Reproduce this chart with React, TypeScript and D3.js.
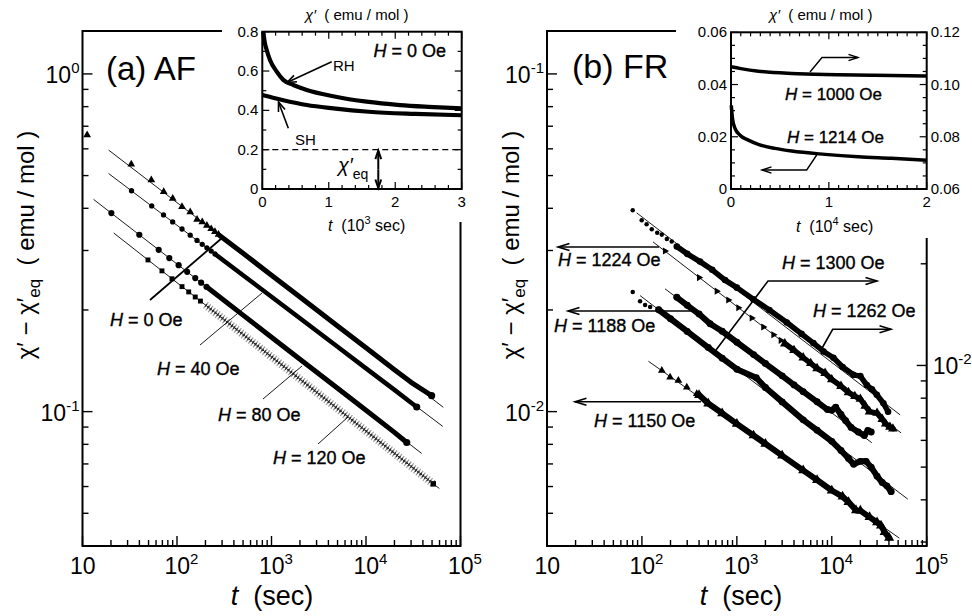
import React from 'react';
import * as d3 from 'd3';

type P = [number, number];

const FONT = "'Liberation Sans', Arial, Helvetica, sans-serif";

// ---------- panel (a) AF : chi' - chi'eq (emu/mol) vs t (sec)
const afH0Sparse: P[] = [[11.2, 0.659], [32.8, 0.54], [53.5, 0.485], [72.3, 0.4475], [90.1, 0.4277], [113, 0.404], [138, 0.3903], [163, 0.3705], [185, 0.3643], [207, 0.3557], [230, 0.3477], [252, 0.341], [275, 0.3347]];
const afH0Band: P[] = [[280, 0.333], [500, 0.2943], [1000, 0.2535], [2000, 0.2184], [5000, 0.1794], [10000, 0.1545], [20000, 0.1331], [30000, 0.1221], [49500, 0.1115]];
const afH0Fit: P[] = [[18.9, 0.595], [65800, 0.103]];

const afH40Sparse: P[] = [[33, 0.4508], [54, 0.4064], [72, 0.3824], [90, 0.3645], [113, 0.3474], [138, 0.333], [163, 0.3214], [185, 0.313], [207, 0.3056], [230, 0.2988], [252, 0.2931]];
const afH40Band: P[] = [[260, 0.291], [500, 0.2535], [1000, 0.2189], [2000, 0.189], [5000, 0.1556], [10000, 0.1343], [20000, 0.116], [34400, 0.1032]];
const afH40Fit: P[] = [[18.9, 0.507], [64900, 0.0904]];

const afH80Sparse: P[] = [[20.2, 0.3873], [39.9, 0.334], [64, 0.3014], [82.9, 0.2849], [104, 0.2714], [128, 0.2594], [156, 0.2485], [180, 0.2409], [205, 0.2342]];
const afH80Band: P[] = [[215, 0.232], [500, 0.1931], [1000, 0.1661], [2000, 0.1429], [5000, 0.1172], [10000, 0.1009], [20000, 0.0868], [27000, 0.081]];
const afH80Fit: P[] = [[13.1, 0.425], [38800, 0.0752]];

const afH120Sparse: P[] = [[49.3, 0.2813], [69.3, 0.2611], [88.5, 0.2474], [113, 0.2345], [133, 0.2262], [156, 0.2185], [177, 0.2125]];
const afH120Band: P[] = [[200, 0.2069], [500, 0.1692], [1000, 0.1453], [2000, 0.1248], [5000, 0.102], [10000, 0.0876], [20000, 0.0752], [51500, 0.0611]];
const afH120Fit: P[] = [[21.4, 0.338], [59700, 0.0592]];

// inset (a): chi' (emu/mol) vs t (10^3 sec), H = 0 Oe
const rhCurve: P[] = [[0.015, 0.8], [0.04, 0.74], [0.066, 0.707], [0.116, 0.656], [0.217, 0.597], [0.316, 0.555], [0.466, 0.529], [0.668, 0.504], [1.068, 0.472], [1.57, 0.444], [2.07, 0.427], [2.5, 0.418], [3.0, 0.41]];
const shCurve: P[] = [[0.0, 0.478], [0.3, 0.453], [0.67, 0.427], [1.07, 0.41], [1.6, 0.393], [2.3, 0.382], [3.0, 0.375]];
const chiEq = 0.2;
const chiEqArrowT = 1.745;

// ---------- panel (b) FR
// right-axis series: 1262 Oe, 1300 Oe ; left-axis: 1224, 1188, 1150 Oe
const fr1262Sparse: P[] = [[80, 0.0288], [99.5, 0.0269], [112, 0.0262], [127, 0.0253], [145, 0.0247], [162, 0.0244], [183, 0.0237], [206, 0.0233]];
const fr1262Band: P[] = [[233, 0.0225], [300, 0.0214], [409, 0.0203], [550, 0.0192], [751, 0.0179], [1000, 0.017], [1490, 0.0157], [2200, 0.0146], [3360, 0.0134], [4800, 0.0124], [6400, 0.01165], [8200, 0.011], [10400, 0.01054], [13000, 0.0099], [16900, 0.00938], [20000, 0.0093], [23400, 0.00875], [26500, 0.0085], [29800, 0.00819], [35000, 0.00773], [39200, 0.00729]];
const fr1262Fit: P[] = [[88.1, 0.0283], [52500, 0.00714]];

const fr1224Sparse: P[] = [[175, 0.0299], [400, 0.02494], [614, 0.02274], [813, 0.02141], [1037, 0.02031], [1435, 0.01893], [1900, 0.01781], [2430, 0.01689], [2900, 0.01626]];
const fr1224Band: P[] = [[3200, 0.0159], [4000, 0.0152], [5000, 0.01445], [6000, 0.0139], [7000, 0.01343], [8500, 0.013], [10000, 0.01245], [12500, 0.0119], [15000, 0.0114], [17500, 0.0111], [20000, 0.0109], [22500, 0.0104], [25000, 0.01], [30000, 0.0099], [34000, 0.0095], [37000, 0.0092], [41000, 0.009], [44000, 0.0089]];
const fr1224Fit: P[] = [[131, 0.0318], [53700, 0.00865]];

const fr1188Band: P[] = [[233, 0.0218], [300, 0.02065], [400, 0.01945], [522, 0.0182], [700, 0.0173], [1000, 0.01605], [1500, 0.01475], [2000, 0.01388], [3000, 0.01276], [4000, 0.012], [5000, 0.01146], [7000, 0.01069], [9000, 0.01014], [10000, 0.0101], [11000, 0.0103], [12500, 0.0098], [14000, 0.0094], [16000, 0.00897], [19000, 0.0087], [22000, 0.0085], [24000, 0.0088], [26000, 0.0087]];
const fr1188Fit: P[] = [[175, 0.0231], [26400, 0.00809]];

const fr1300Sparse: P[] = [[80, 0.0165], [95.6, 0.0155], [108, 0.0151], [122, 0.0149]];
const fr1300Band: P[] = [[150, 0.01462], [200, 0.01375], [300, 0.01261], [500, 0.0113], [700, 0.01051], [1000, 0.00975], [1600, 0.0092], [2000, 0.0086], [3000, 0.0078], [5000, 0.0069], [7000, 0.00643], [10000, 0.00596], [12500, 0.0056], [15000, 0.0053], [17000, 0.0051], [20000, 0.0052], [23000, 0.0052], [26000, 0.005], [30000, 0.0047], [34000, 0.0045], [38000, 0.0044], [42200, 0.00423]];
const fr1300Fit: P[] = [[95.6, 0.0161], [63200, 0.00402]];

const fr1150Sparse: P[] = [[162, 0.01324], [198, 0.01265], [242, 0.01236], [297, 0.01181], [378, 0.0113]];
const fr1150Band: P[] = [[400, 0.0112], [500, 0.01057], [700, 0.00989], [1000, 0.0092], [1500, 0.0085], [2000, 0.00803], [3000, 0.00741], [5000, 0.0067], [7000, 0.00627], [10000, 0.00584], [13000, 0.0056], [15000, 0.0054], [18000, 0.0051], [20000, 0.00509], [25000, 0.00487], [30000, 0.0047], [33000, 0.0046], [36000, 0.0044], [40200, 0.00423]];
const fr1150Fit: P[] = [[117, 0.0141], [51500, 0.00422]];

// inset (b): chi' vs t (10^4 sec)
const h1000Curve: P[] = [[0, 0.1068], [0.1, 0.1061], [0.28, 0.1051], [0.62, 0.1042], [0.96, 0.1038], [1.47, 0.1036], [2.0, 0.1033]];
const h1214Curve: P[] = [[0.003, 0.032], [0.015, 0.027], [0.041, 0.0232], [0.092, 0.0206], [0.177, 0.0187], [0.279, 0.0171], [0.45, 0.01555], [0.62, 0.01452], [0.96, 0.01326], [1.3, 0.01234], [1.64, 0.01173], [2.0, 0.011]];

type Sc = (v: number) => number;

const isMajor = (v: number) => Math.abs(Math.log10(v) - Math.round(Math.log10(v))) < 1e-6;

function Arrow({ pts, w = 1.5, head = 11, ang = 0.36 }: { pts: P[]; w?: number; head?: number; ang?: number }) {
  const n = pts.length;
  const [x1, y1] = pts[n - 1];
  const [x0, y0] = pts[n - 2];
  const a = Math.atan2(y1 - y0, x1 - x0);
  const h1 = [x1 - head * Math.cos(a - ang), y1 - head * Math.sin(a - ang)];
  const h2 = [x1 - head * Math.cos(a + ang), y1 - head * Math.sin(a + ang)];
  return (
    <g fill="none" stroke="#000" strokeWidth={w} strokeLinejoin="miter">
      <polyline points={pts.map((p) => p.join(',')).join(' ')} />
      <polyline points={`${h1.join(',')} ${x1},${y1} ${h2.join(',')}`} />
    </g>
  );
}

function Markers({ pts, x, y, type, size, rot = 0, fill = '#000' }: { pts: P[]; x: Sc; y: Sc; type: d3.SymbolType; size: number; rot?: number; fill?: string }) {
  const d = d3.symbol().type(type).size(size)() as string;
  return (
    <g fill={fill}>
      {pts.map((p, i) => (
        <path key={i} d={d} transform={`translate(${x(p[0])},${y(p[1])}) rotate(${rot})`} />
      ))}
    </g>
  );
}

function Pow({ x, y, anchor, exp, size = 23 }: { x: number; y: number; anchor: string; exp: string; size?: number }) {
  return (
    <text x={x} y={y} textAnchor={anchor} fontSize={size}>
      10{exp ? <tspan dy={-10} fontSize={15}>{exp}</tspan> : null}
    </text>
  );
}

function HLabel({ x, y, val, size = 18, anchor = 'start' }: { x: number; y: number; val: string; size?: number; anchor?: string }) {
  return (
    <text x={x} y={y} fontSize={size} textAnchor={anchor} stroke="#000" strokeWidth={0.35}>
      <tspan fontStyle="italic">H</tspan> = {val} Oe
    </text>
  );
}

function LogPanel({ x, y, yr, x0, x1, y0, y1, topEnd, rightStart, labelsY, labelsYR }: {
  x: any; y: any; yr?: any; x0: number; x1: number; y0: number; y1: number; topEnd: number; rightStart: number;
  labelsY: [number, string][]; labelsYR?: [number, string][];
}) {
  const xt = x.ticks() as number[];
  const yt = y.ticks() as number[];
  const yrt = yr ? (yr.ticks() as number[]).filter((v) => yr(v) >= rightStart + 4) : [];
  return (
    <g>
      <path d={`M${topEnd},${y0} H${x0} V${y1} H${x1} V${rightStart}`} fill="none" stroke="#000" strokeWidth={2} />
      <g stroke="#000" strokeWidth={1.4}>
        {yt.map((v, i) => (
          <line key={'y' + i} x1={x0} x2={x0 + (isMajor(v) ? 10 : 6)} y1={y(v)} y2={y(v)} />
        ))}
        {xt.map((v, i) => (
          <line key={'x' + i} x1={x(v)} x2={x(v)} y1={y1} y2={y1 - (isMajor(v) ? 10 : 6)} />
        ))}
        {yrt.map((v, i) => (
          <line key={'r' + i} x1={x1} x2={x1 - (isMajor(v) ? 10 : 6)} y1={yr(v)} y2={yr(v)} />
        ))}
      </g>
      {labelsY.map(([v, e]) => (
        <Pow key={'ly' + v} x={x0 - 3} y={y(v) + 9} anchor="end" exp={e} />
      ))}
      {(labelsYR || []).map(([v, e]) => (
        <Pow key={'lr' + v} x={x1 + 6} y={yr(v) + 9} anchor="start" exp={e} />
      ))}
      {xt.filter(isMajor).map((v) => {
        const e = Math.round(Math.log10(v));
        return <Pow key={'lx' + v} x={x(v) - 12.5} y={574} anchor="start" exp={e === 1 ? '' : String(e)} />;
      })}
    </g>
  );
}

function LinInset({ x, y, yr, xMinor, yMinor, yrMinor, xLabels, yLabels, yrLabels }: {
  x: any; y: any; yr?: any; xMinor: number; yMinor: number; yrMinor?: number;
  xLabels: [number, string][]; yLabels: [number, string][]; yrLabels?: [number, string][];
}) {
  const [xa, xb] = x.range();
  const [ya, yb] = y.range();
  const [dx0, dx1] = x.domain();
  const [dy0, dy1] = y.domain();
  const xm = d3.range(dx0, dx1 + 1e-9, xMinor);
  const ym = d3.range(dy0, dy1 + 1e-9, yMinor);
  const yrm = yr ? d3.range(yr.domain()[0], yr.domain()[1] + 1e-9, yrMinor as number) : [];
  const majX = new Set(xLabels.map((d) => d[0]));
  const majY = new Set(yLabels.map((d) => d[0]));
  const near = (s: Set<number>, v: number) => [...s].some((m) => Math.abs(m - v) < 1e-9);
  return (
    <g>
      <rect x={xa} y={yb} width={xb - xa} height={ya - yb} fill="#fff" stroke="#000" strokeWidth={2} />
      <g stroke="#000" strokeWidth={1.2}>
        {xm.map((v, i) => {
          const L = near(majX, v) ? 7 : 4;
          return (
            <g key={'x' + i}>
              <line x1={x(v)} x2={x(v)} y1={ya} y2={ya - L} />
              <line x1={x(v)} x2={x(v)} y1={yb} y2={yb + L} />
            </g>
          );
        })}
        {ym.map((v, i) => {
          const L = near(majY, v) ? 7 : 4;
          return (
            <g key={'y' + i}>
              <line x1={xa} x2={xa + L} y1={y(v)} y2={y(v)} />
              {yr ? null : <line x1={xb} x2={xb - L} y1={y(v)} y2={y(v)} />}
            </g>
          );
        })}
        {yrm.map((v, i) => {
          const L = (yrLabels || []).some((m) => Math.abs(m[0] - v) < 1e-9) ? 7 : 4;
          return <line key={'r' + i} x1={xb} x2={xb - L} y1={yr(v)} y2={yr(v)} />;
        })}
      </g>
      <g fontSize={15}>
        {xLabels.map(([v, s]) => (
          <text key={'lx' + v} x={x(v)} y={ya + 18} textAnchor="middle">{s}</text>
        ))}
        {yLabels.map(([v, s]) => (
          <text key={'ly' + v} x={xa - 4} y={y(v) + 5} textAnchor="end">{s}</text>
        ))}
        {(yrLabels || []).map(([v, s]) => (
          <text key={'lr' + v} x={xb + 4} y={yr(v) + 5} textAnchor="start">{s}</text>
        ))}
      </g>
    </g>
  );
}

export default function App() {
  const xA = d3.scaleLog().domain([10, 1e5]).range([82.5, 460.5]);
  const yA = d3.scaleLog().domain([0.04, 1.34]).range([546, 31]);
  const xB = d3.scaleLog().domain([10, 1e5]).range([547, 926.7]);
  const yBL = d3.scaleLog().domain([0.004, 0.134]).range([546, 31]);
  const yBR = d3.scaleLog().domain([0.00292, 0.0978]).range([546, 31]);
  const xIA = d3.scaleLinear().domain([0, 3]).range([262.3, 461.7]);
  const yIA = d3.scaleLinear().domain([0, 0.8]).range([189, 31.7]);
  const xIB = d3.scaleLinear().domain([0, 2]).range([731, 926.7]);
  const yIBL = d3.scaleLinear().domain([0, 0.06]).range([189, 32.3]);
  const yIBR = d3.scaleLinear().domain([0.06, 0.12]).range([189, 32.3]);

  const ln = (x: Sc, y: Sc) => d3.line<P>().x((d) => x(d[0])).y((d) => y(d[1]));
  const smooth = (x: Sc, y: Sc) => d3.line<P>().x((d) => x(d[0])).y((d) => y(d[1])).curve(d3.curveMonotoneX);

  const fit = (pts: P[], x: Sc, y: Sc) => <path d={ln(x, y)(pts) as string} fill="none" stroke="#000" strokeWidth={0.9} />;
  const band = (pts: P[], x: Sc, y: Sc, w: number) => (
    <path d={ln(x, y)(pts) as string} fill="none" stroke="#000" strokeWidth={w} strokeLinecap="round" strokeLinejoin="round" />
  );
  const last = (pts: P[]) => [pts[pts.length - 1]] as P[];

  return (
    <div style={{ position: 'absolute', left: 0, top: 0 }}>
      <svg width={972} height={616} fontFamily={FONT} style={{ display: 'block' }}>
        <rect width={972} height={616} fill="#fff" />

        {/* ---------------- panel (a) ---------------- */}
        <LogPanel x={xA} y={yA} x0={82.5} x1={460.5} y0={31} y1={546} topEnd={222} rightStart={222}
          labelsY={[[1, '0'], [0.1, '-1']]} />
        <text x={106} y={80} fontSize={33}>(a) AF</text>

        {fit(afH0Fit, xA, yA)}
        {fit(afH40Fit, xA, yA)}
        {fit(afH80Fit, xA, yA)}
        {fit(afH120Fit, xA, yA)}

        {band(afH0Band, xA, yA, 5)}
        {band(afH40Band, xA, yA, 4.5)}
        {band(afH80Band, xA, yA, 5)}
        <path d={ln(xA, yA)(afH120Band) as string} fill="none" stroke="#9a9a9a" strokeWidth={8} strokeDasharray="1.2 1.8" />
        <path d={ln(xA, yA)(afH120Band) as string} fill="none" stroke="#222" strokeWidth={3.2} strokeDasharray="1.3 1.7" />

        <Markers pts={afH0Sparse} x={xA} y={yA} type={d3.symbolTriangle} size={26} />
        <Markers pts={afH40Sparse} x={xA} y={yA} type={d3.symbolCircle} size={22} />
        <Markers pts={afH80Sparse} x={xA} y={yA} type={d3.symbolCircle} size={30} />
        <Markers pts={afH120Sparse} x={xA} y={yA} type={d3.symbolSquare} size={24} />
        <Markers pts={last(afH0Band)} x={xA} y={yA} type={d3.symbolCircle} size={40} />
        <Markers pts={last(afH40Band)} x={xA} y={yA} type={d3.symbolCircle} size={40} />
        <Markers pts={last(afH80Band)} x={xA} y={yA} type={d3.symbolCircle} size={40} />
        <Markers pts={last(afH120Band)} x={xA} y={yA} type={d3.symbolSquare} size={30} />

        <line x1={150} y1={300} x2={222} y2={238} stroke="#000" strokeWidth={1.8} />
        <line x1={200} y1={345} x2={262} y2={293} stroke="#000" strokeWidth={0.9} />
        <line x1={263} y1={399} x2={302} y2={366} stroke="#000" strokeWidth={0.9} />
        <line x1={318} y1={444} x2={348} y2={417} stroke="#000" strokeWidth={0.9} />
        <HLabel x={110} y={326} val="0" />
        <HLabel x={157} y={375} val="40" />
        <HLabel x={218} y={421} val="80" />
        <HLabel x={273} y={464} val="120" />

        <text transform="translate(34,245) rotate(-90)" textAnchor="middle" fontSize={24}>
          χ′ − χ′<tspan fontSize={17} dy={6}>eq</tspan><tspan dy={-6}>{'\u00a0 ( emu / mol )'}</tspan>
        </text>
        <text x={272} y={605} textAnchor="middle" fontSize={27}>
          <tspan fontStyle="italic">t</tspan>{'\u00a0 (sec)'}
        </text>

        {/* inset (a) */}
        <LinInset x={xIA} y={yIA} xMinor={0.2} yMinor={0.1}
          xLabels={[[0, '0'], [1, '1'], [2, '2'], [3, '3']]}
          yLabels={[[0, '0'], [0.2, '0.2'], [0.4, '0.4'], [0.6, '0.6'], [0.8, '0.8']]} />
        <line x1={xIA(0)} x2={xIA(3)} y1={yIA(chiEq)} y2={yIA(chiEq)} stroke="#000" strokeWidth={1.2} strokeDasharray="6 4" />
        <path d={smooth(xIA, yIA)(rhCurve) as string} fill="none" stroke="#000" strokeWidth={4.2} />
        <path d={smooth(xIA, yIA)(shCurve) as string} fill="none" stroke="#000" strokeWidth={4.2} />
        <Arrow pts={[[xIA(chiEqArrowT), yIA(0.1)], [xIA(chiEqArrowT), yIA(chiEq) + 1]]} w={2} head={9} ang={0.33} />
        <Arrow pts={[[xIA(chiEqArrowT), yIA(0.1)], [xIA(chiEqArrowT), yIA(0) - 1]]} w={2} head={9} ang={0.33} />
        <Arrow pts={[[331.7, 61.7], [287, 82.5]]} w={1.6} head={10} />
        <Arrow pts={[[288.3, 128.3], [278.5, 102]]} w={1.6} head={10} />
        <text x={333} y={71} fontSize={15}>RH</text>
        <text x={295} y={145} fontSize={15}>SH</text>
        <HLabel x={446} y={57} val="0" anchor="end" />
        <text x={338} y={172} fontSize={20}>
          <tspan fontStyle="italic">χ′</tspan><tspan fontSize={14} dy={7}>eq</tspan>
        </text>
        <text x={305} y={20} fontSize={15}>
          <tspan fontStyle="italic">χ′</tspan>{'\u00a0 ( emu / mol )'}
        </text>
        <text x={328} y={231} fontSize={16}>
          <tspan fontStyle="italic">t</tspan>{'\u00a0 (10'}<tspan fontSize={11} dy={-7}>3</tspan><tspan dy={7}> sec)</tspan>
        </text>

        {/* ---------------- panel (b) ---------------- */}
        <LogPanel x={xB} y={yBL} yr={yBR} x0={547} x1={926.7} y0={31} y1={546} topEnd={676} rightStart={238}
          labelsY={[[0.1, '-1'], [0.01, '-2']]} labelsYR={[[0.01, '-2']]} />
        <text x={572} y={78} fontSize={34}>(b) FR</text>

        {fit(fr1262Fit, xB, yBR)}
        {fit(fr1224Fit, xB, yBL)}
        {fit(fr1188Fit, xB, yBL)}
        {fit(fr1300Fit, xB, yBR)}
        {fit(fr1150Fit, xB, yBL)}

        {band(fr1262Band, xB, yBR, 5.5)}
        {band(fr1224Band, xB, yBL, 5.5)}
        {band(fr1188Band, xB, yBL, 6)}
        {band(fr1300Band, xB, yBR, 6)}
        {band(fr1150Band, xB, yBL, 6)}
        <Markers pts={fr1262Band} x={xB} y={yBR} type={d3.symbolCircle} size={34} />
        <Markers pts={fr1188Band} x={xB} y={yBL} type={d3.symbolCircle} size={38} />
        <Markers pts={fr1300Band} x={xB} y={yBR} type={d3.symbolCircle} size={38} />
        <Markers pts={fr1150Band} x={xB} y={yBL} type={d3.symbolTriangle} size={44} />
        <Markers pts={fr1224Band} x={xB} y={yBL} type={d3.symbolTriangle} size={40} />

        <Markers pts={fr1262Sparse} x={xB} y={yBR} type={d3.symbolCircle} size={16} />
        <Markers pts={fr1224Sparse} x={xB} y={yBL} type={d3.symbolTriangle} size={22} rot={90} />
        <Markers pts={fr1300Sparse} x={xB} y={yBR} type={d3.symbolCircle} size={16} />
        <Markers pts={fr1150Sparse} x={xB} y={yBL} type={d3.symbolTriangle} size={26} />

        <Arrow pts={[[659, 247], [558, 247]]} w={1.6} head={12} ang={0.3} />
        <Arrow pts={[[691, 311], [568, 311]]} w={1.6} head={12} ang={0.3} />
        <Arrow pts={[[701, 401.7], [575, 401.7]]} w={1.6} head={12} ang={0.3} />
        <Arrow pts={[[716, 350], [768, 281], [877, 281]]} w={1.6} head={12} ang={0.3} />
        <Arrow pts={[[821, 350], [832.7, 329.3], [891, 329.3]]} w={1.6} head={12} ang={0.3} />
        <HLabel x={558} y={266} val="1224" />
        <HLabel x={554} y={332} val="1188" />
        <HLabel x={594} y={427} val="1150" />
        <HLabel x={782} y={269} val="1300" />
        <HLabel x={813} y={317} val="1262" />

        <text transform="translate(519,245) rotate(-90)" textAnchor="middle" fontSize={24}>
          χ′ − χ′<tspan fontSize={17} dy={6}>eq</tspan><tspan dy={-6}>{'\u00a0 ( emu / mol )'}</tspan>
        </text>
        <text x={741} y={605} textAnchor="middle" fontSize={27}>
          <tspan fontStyle="italic">t</tspan>{'\u00a0 (sec)'}
        </text>

        {/* inset (b) */}
        <LinInset x={xIB} y={yIBL} yr={yIBR} xMinor={0.1} yMinor={0.005} yrMinor={0.005}
          xLabels={[[0, '0'], [1, '1'], [2, '2']]}
          yLabels={[[0, '0'], [0.02, '0.02'], [0.04, '0.04'], [0.06, '0.06']]}
          yrLabels={[[0.06, '0.06'], [0.08, '0.08'], [0.1, '0.10'], [0.12, '0.12']]} />
        <path d={smooth(xIB, yIBR)(h1000Curve) as string} fill="none" stroke="#000" strokeWidth={3.5} />
        <path d={smooth(xIB, yIBL)(h1214Curve) as string} fill="none" stroke="#000" strokeWidth={3.5} />
        <Arrow pts={[[810, 72], [822, 57.5], [858, 57.5]]} w={1.4} head={10} ang={0.32} />
        <Arrow pts={[[816.7, 155], [806.7, 170], [762, 170]]} w={1.4} head={10} ang={0.32} />
        <HLabel x={785} y={100} val="1000" size={17} />
        <HLabel x={787} y={143} val="1214" size={17} />
        <text x={769} y={20} fontSize={15}>
          <tspan fontStyle="italic">χ′</tspan>{'\u00a0 ( emu / mol )'}
        </text>
        <text x={796} y={232} fontSize={16}>
          <tspan fontStyle="italic">t</tspan>{'\u00a0 (10'}<tspan fontSize={11} dy={-7}>4</tspan><tspan dy={7}> sec)</tspan>
        </text>
      </svg>
    </div>
  );
}
